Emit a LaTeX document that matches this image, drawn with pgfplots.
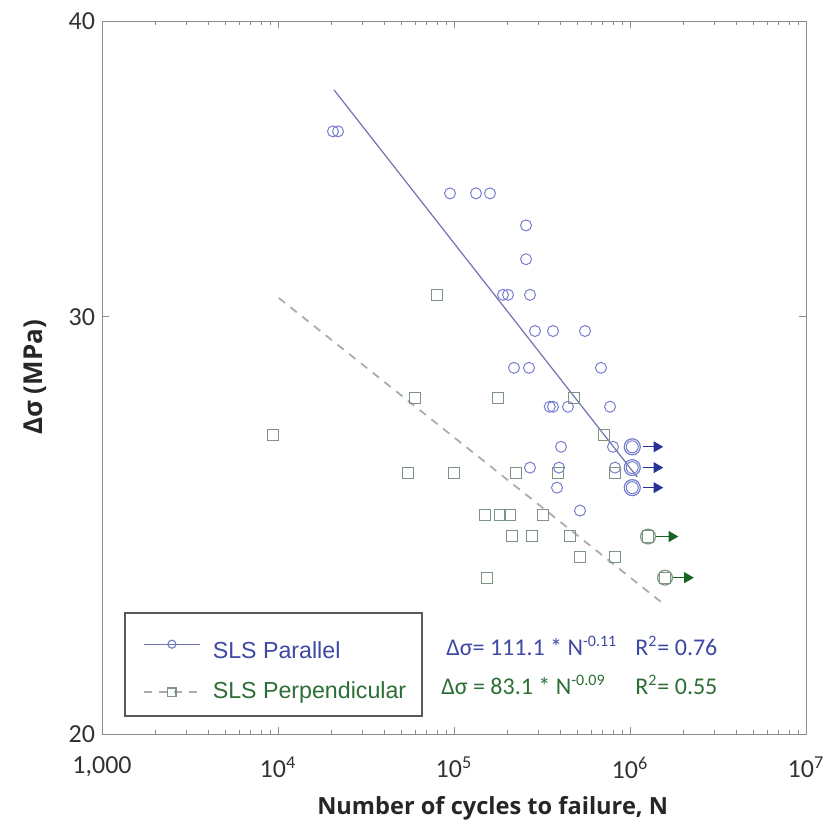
\documentclass[border=0pt]{standalone}
\usepackage{pgfplots}
\pgfplotsset{compat=1.18}
\usepackage{fontspec}
\setmainfont{Carlito}
\newfontfamily\arialfont{Liberation Sans}
\newfontfamily\labelfont{Open Sans}

\definecolor{circblue}{RGB}{118,126,205}
\definecolor{fitblue}{RGB}{110,116,175}
\definecolor{sqgreen}{RGB}{125,148,130}
\definecolor{dashgrey}{RGB}{172,172,172}
\definecolor{txtblue}{RGB}{62,72,165}
\definecolor{txtgreen}{RGB}{45,110,55}
\definecolor{arrblue}{RGB}{40,50,150}
\definecolor{arrgreen}{RGB}{25,100,35}
\definecolor{framegrey}{RGB}{140,140,140}

\begin{document}
\begin{tikzpicture}
\path[use as bounding box] (-51pt,-47.5pt) rectangle (365.5pt,367pt);
\begin{axis}[
  scale only axis,
  width=352pt, height=356.5pt,
  xmode=log, ymode=log,
  xmin=1000, xmax=1e7, ymin=20, ymax=40,
  xtick={1000,10000,100000,1000000,10000000},
  xticklabels={{1,000},{10\textsuperscript{4}},{10\textsuperscript{5}},{10\textsuperscript{6}},{10\textsuperscript{7}}},
  minor xtick={2000,3000,4000,5000,6000,7000,8000,9000,
    20000,30000,40000,50000,60000,70000,80000,90000,
    200000,300000,400000,500000,600000,700000,800000,900000,
    2000000,3000000,4000000,5000000,6000000,7000000,8000000,9000000},
  ytick={20,30,40}, yticklabels={20,30,40},
  minor ytick={},
  tick align=inside,
  major tick length=3.5pt, minor tick length=2pt,
  every tick/.style={framegrey},
  axis line style={framegrey},
  ticklabel style={font=\fontsize{13}{13}\selectfont, text=black!80},
  xticklabel style={yshift=-8pt},
  xlabel={Number of cycles to failure, N},
  ylabel={Δσ (MPa)},
  xlabel style={at={(axis description cs:0.555,-0.1038)}, anchor=center,
    font=\labelfont\bfseries\fontsize{11.8}{14}\selectfont, text=black!85},
  ylabel style={at={(axis description cs:-0.0952,0.5)}, anchor=center,
    font=\labelfont\bfseries\fontsize{13}{14}\selectfont, text=black!85},
  legend style={at={(0.03125,0.0238)}, anchor=south west,
    draw=black!65, line width=1pt, fill=white,
    font=\arialfont\fontsize{11.6}{14}\selectfont,
    row sep=6.5pt, inner xsep=6pt, inner ysep=5pt},
  legend cell align=left,
  legend image code/.code={\path (0pt,0pt) (35pt,0pt);
    \draw[mark repeat=2,mark phase=2,#1] plot coordinates {(3pt,0pt) (17pt,0pt) (31pt,0pt)};},
]

% fitted lines
\addplot[forget plot, fitblue, line width=0.6pt] coordinates {(20800,37.41) (1.1e6,25.67)};
\addplot[forget plot, dashgrey, line width=0.9pt, dash pattern=on 4pt off 3.5pt] coordinates {(10100,30.56) (1.52e6,22.72)};

% SLS parallel
\addplot[forget plot, only marks, mark=o, mark size=2.75pt, circblue, mark options={line width=0.5pt}] coordinates {
  (20530,35.93) (21930,35.93)
  (94900,33.83) (133400,33.83) (160200,33.83)
  (256600,32.79)
  (256600,31.73)
  (189800,30.65) (202700,30.65) (270300,30.65)
  (288600,29.59) (365200,29.59) (555200,29.59)
  (219300,28.55) (266800,28.55) (684200,28.55)
  (350000,27.49) (365000,27.49) (444300,27.49) (769800,27.49)
  (405500,26.44) (800500,26.44)
  (270300,25.91) (395000,25.91) (821800,25.91)
  (384800,25.41)
  (519900,24.85)
};

% SLS perpendicular
\addplot[forget plot, only marks, mark=square, mark size=2.8pt, sqgreen, mark options={line width=0.5pt}] coordinates {
  (80060,30.65)
  (60010,27.73) (177800,27.73) (480800,27.73)
  (9367,26.75) (711600,26.75)
  (54780,25.78) (100000,25.78) (225100,25.78) (389900,25.78) (821800,25.78)
  (150000,24.75) (182500,24.75) (208100,24.75) (320300,24.75)
  (213500,24.25) (277500,24.25) (456200,24.25)
  (519900,23.76) (821800,23.76)
  (154000,23.28)
};

% run-outs, parallel
\addplot[forget plot, only marks, mark=o, mark size=4pt, circblue, mark options={line width=0.6pt}] coordinates {(1.03e6,26.44) (1.03e6,25.91) (1.03e6,25.41)};
\addplot[forget plot, only marks, mark=o, mark size=3pt, circblue, mark options={line width=0.5pt}] coordinates {(1.03e6,26.44) (1.03e6,25.91) (1.03e6,25.41)};
\addplot[forget plot, arrblue, line width=0.6pt] coordinates {(1.19e6,26.44) (1.38e6,26.44)};
\addplot[forget plot, arrblue, line width=0.6pt] coordinates {(1.19e6,25.91) (1.38e6,25.91)};
\addplot[forget plot, arrblue, line width=0.6pt] coordinates {(1.19e6,25.41) (1.38e6,25.41)};
\addplot[forget plot, only marks, mark=triangle*, mark size=2.8pt, arrblue, mark options={rotate=-90}] coordinates {(1.42e6,26.44) (1.42e6,25.91) (1.42e6,25.41)};

% run-outs, perpendicular
\addplot[forget plot, only marks, mark=o, mark size=3.7pt, sqgreen, mark options={line width=0.6pt}] coordinates {(1.266e6,24.23) (1.581e6,23.28)};
\addplot[forget plot, only marks, mark=square, mark size=2.8pt, sqgreen, mark options={line width=0.5pt}] coordinates {(1.266e6,24.23) (1.581e6,23.28)};
\addplot[forget plot, arrgreen, line width=0.6pt] coordinates {(1.41e6,24.23) (1.66e6,24.23)};
\addplot[forget plot, arrgreen, line width=0.6pt] coordinates {(1.76e6,23.28) (2.05e6,23.28)};
\addplot[forget plot, only marks, mark=triangle*, mark size=2.8pt, arrgreen, mark options={rotate=-90}] coordinates {(1.73e6,24.23) (2.12e6,23.28)};

% legend
\addlegendimage{fitblue, line width=0.6pt, mark=o, mark size=2pt, mark options={circblue}}
\addlegendentry{\rule{0pt}{15.5pt}\textcolor{txtblue}{SLS Parallel}}
\addlegendimage{dashgrey, line width=0.9pt, dash pattern=on 4pt off 3.5pt, mark=square, mark size=2.2pt, mark options={sqgreen, solid}}
\addlegendentry{\textcolor{txtgreen}{SLS Perpendicular}}

% fit equations
\node[anchor=west, inner sep=0pt, text=txtblue, font=\fontsize{12}{14}\selectfont] at (axis description cs:0.4886,0.124) {Δσ= 111.1 * N\textsuperscript{-0.11}};
\node[anchor=west, inner sep=0pt, text=txtblue, font=\fontsize{12}{14}\selectfont] at (axis description cs:0.757,0.124) {R\textsuperscript{2}= 0.76};
\node[anchor=west, inner sep=0pt, text=txtgreen, font=\fontsize{12}{14}\selectfont] at (axis description cs:0.4815,0.069) {Δσ = 83.1 * N\textsuperscript{-0.09}};
\node[anchor=west, inner sep=0pt, text=txtgreen, font=\fontsize{12}{14}\selectfont] at (axis description cs:0.757,0.069) {R\textsuperscript{2}= 0.55};

\end{axis}
\end{tikzpicture}
\end{document}
